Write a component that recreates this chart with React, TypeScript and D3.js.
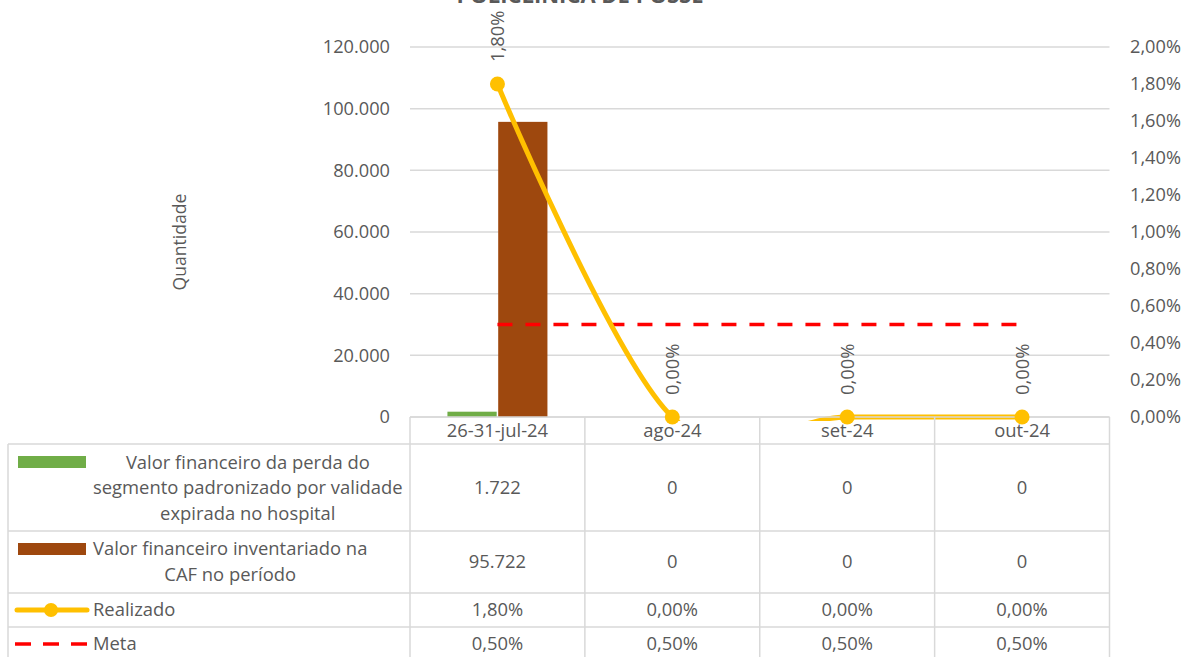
import React from 'react';
import * as d3 from 'd3';

const titleText = 'POLICLÍNICA DE POSSE';
const categories = ['26-31-jul-24', 'ago-24', 'set-24', 'out-24'];
const perdaValues = [1722, 0, 0, 0];
const inventarioValues = [95722, 0, 0, 0];
const realizadoValues = [0.018, 0, 0, 0];
const metaValues = [0.005, 0.005, 0.005, 0.005];
const leftTicks = [0, 20000, 40000, 60000, 80000, 100000, 120000];
const rightTicks = [0, 0.002, 0.004, 0.006, 0.008, 0.01, 0.012, 0.014, 0.016, 0.018, 0.02];
const perdaName = ['Valor financeiro da perda do', 'segmento padronizado por validade', 'expirada no hospital'];
const inventarioName = ['Valor financeiro inventariado na', 'CAF no período'];
const realizadoName = 'Realizado';
const metaName = 'Meta';
const yAxisTitle = 'Quantidade';

const locale = d3.formatLocale({ decimal: ',', thousands: '.', grouping: [3], currency: ['R$', ''] });
const fmtNum = locale.format(',.0f');
const fmtPct = locale.format('.2%');

const FONT = '"Open Sans", sans-serif';
const TXT = '#595959';
const GRID = '#d9d9d9';
const GREEN = '#70AD47';
const BROWN = '#9E480E';
const GOLD = '#FFC000';
const RED = '#FF0000';

let _ctx: CanvasRenderingContext2D | null = null;
function measure(t: string, size: number) {
  if (!_ctx) _ctx = document.createElement('canvas').getContext('2d');
  if (!_ctx) return t.length * size * 0.5;
  _ctx.font = `${size}px "Open Sans"`;
  return _ctx.measureText(t).width;
}

export default function App() {
  const W = 1184, H = 657;
  const plotL = 410, plotR = 1109.5, plotT = 47, plotB = 417;
  const x = d3.scaleBand<string>().domain(categories).range([plotL, plotR]).paddingInner(0).paddingOuter(0);
  const bw = x.bandwidth();
  const yL = d3.scaleLinear().domain([0, 120000]).range([plotB, plotT]);
  const yR = d3.scaleLinear().domain([0, 0.02]).range([plotB, plotT]);
  const cx = (c: string) => (x(c) as number) + bw / 2;
  const sub = d3.scaleBand<string>().domain(['perda', 'inv']).range([-50, 50]).paddingInner(0.03);

  const line = d3.line<number>().x((_, i) => cx(categories[i])).y((d) => yR(d)).curve(d3.curveCardinal.tension(0));
  const metaLine = d3.line<number>().x((_, i) => cx(categories[i])).y((d) => yR(d));

  const rows = [444, 531, 593, 627, 662];
  const tableL = 8;
  const colEdges = [plotL, ...categories.map((c) => (x(c) as number) + bw)];
  const fs = 18.4;
  const tfs = 18.2;
  const textX0 = 93;
  const blockCenter = (lines: string[]) => textX0 + Math.max(...lines.map((l) => measure(l, fs))) / 2;

  const rowVals: string[][] = [
    perdaValues.map(fmtNum),
    inventarioValues.map(fmtNum),
    realizadoValues.map(fmtPct),
    metaValues.map(fmtPct),
  ];
  const rowValY = [488, 562, 610, 644];

  return (
    <svg width={W} height={H} style={{ position: 'absolute', left: 0, top: 0, background: '#fff' }} fontFamily={FONT}>
      <defs>
        <clipPath id="plotclip">
          <rect x={plotL} y={0} width={plotR - plotL} height={421} />
        </clipPath>
      </defs>
      <rect width={W} height={H} fill="#fff" />
      <text x={580} y={3} textAnchor="middle" fontSize={22} fontWeight="bold" fill={TXT}>{titleText}</text>

      {/* gridlines */}
      {leftTicks.map((t) => (
        <line key={'g' + t} x1={plotL} x2={plotR} y1={yL(t)} y2={yL(t)} stroke={GRID} strokeWidth={1.5} />
      ))}
      {/* left tick labels */}
      {leftTicks.map((t) => (
        <text key={'l' + t} x={390} y={yL(t)} dy="0.35em" textAnchor="end" fontSize={tfs} fill={TXT}>{fmtNum(t)}</text>
      ))}
      {rightTicks.map((t) => (
        <text key={'r' + t} x={1130} y={yR(t)} dy="0.35em" textAnchor="start" fontSize={tfs} fill={TXT}>{fmtPct(t)}</text>
      ))}
      <text transform={`translate(180,242) rotate(-90)`} textAnchor="middle" dy="0.35em" fontSize={17.6} fill={TXT}>{yAxisTitle}</text>

      {/* bars */}
      {categories.map((c, i) => (
        <g key={'b' + c}>
          {perdaValues[i] > 0 && (
            <rect x={cx(c) + (sub('perda') as number)} width={sub.bandwidth()} y={yL(perdaValues[i])} height={plotB - yL(perdaValues[i])} fill={GREEN} />
          )}
          {inventarioValues[i] > 0 && (
            <rect x={cx(c) + (sub('inv') as number)} width={sub.bandwidth()} y={yL(inventarioValues[i])} height={plotB - yL(inventarioValues[i])} fill={BROWN} />
          )}
        </g>
      ))}

      {/* meta */}
      <path d={metaLine(metaValues) || ''} fill="none" stroke={RED} strokeWidth={3.5} strokeDasharray="15 13" />
      {/* realizado */}
      <g clipPath="url(#plotclip)">
        <path d={line(realizadoValues) || ''} fill="none" stroke={GOLD} strokeWidth={5} strokeLinecap="round" />
      </g>

      {/* table lines */}
      <line x1={plotL} x2={plotR} y1={plotB} y2={plotB} stroke={GRID} strokeWidth={1.5} />
      {rows.map((r) => (
        <line key={'h' + r} x1={tableL} x2={plotR} y1={r} y2={r} stroke={GRID} strokeWidth={1.5} />
      ))}
      {colEdges.map((e) => (
        <line key={'v' + e} x1={e} x2={e} y1={plotB} y2={H + 5} stroke={GRID} strokeWidth={1.5} />
      ))}
      <line x1={tableL} x2={tableL} y1={rows[0]} y2={H + 5} stroke={GRID} strokeWidth={1.5} />

      {realizadoValues.map((v, i) => (
        <circle key={'m' + i} cx={cx(categories[i])} cy={yR(v)} r={7.5} fill={GOLD} />
      ))}
      {realizadoValues.map((v, i) => (
        <text key={'dl' + i} transform={`translate(${cx(categories[i])},${yR(v) - 22}) rotate(-90)`} dy="0.35em" textAnchor="start" fontSize={18.4} fill={TXT}>{fmtPct(v)}</text>
      ))}

      {/* header */}
      {categories.map((c) => (
        <text key={'c' + c} x={cx(c)} y={431} dy="0.35em" textAnchor="middle" fontSize={fs} fill={TXT}>{c}</text>
      ))}
      {/* values */}
      {rowVals.map((vals, ri) =>
        vals.map((v, ci) => (
          <text key={'v' + ri + '-' + ci} x={cx(categories[ci])} y={rowValY[ri]} dy="0.35em" textAnchor="middle" fontSize={fs} fill={TXT}>{v}</text>
        ))
      )}

      {/* legend cells */}
      <rect x={18} y={456} width={68} height={12} fill={GREEN} />
      {perdaName.map((l, i) => (
        <text key={'p' + i} x={blockCenter(perdaName)} y={462.5 + i * 25.3} dy="0.35em" textAnchor="middle" fontSize={fs} fill={TXT}>{l}</text>
      ))}
      <rect x={18} y={543} width={68} height={12} fill={BROWN} />
      {inventarioName.map((l, i) => (
        <text key={'i' + i} x={blockCenter(inventarioName)} y={549 + i * 26} dy="0.35em" textAnchor="middle" fontSize={fs} fill={TXT}>{l}</text>
      ))}
      <line x1={17} x2={87} y1={610} y2={610} stroke={GOLD} strokeWidth={5} strokeLinecap="round" />
      <circle cx={51} cy={610} r={7} fill={GOLD} />
      <text x={textX0} y={610} dy="0.35em" fontSize={fs} fill={TXT}>{realizadoName}</text>
      <line x1={15} x2={88} y1={644} y2={644} stroke={RED} strokeWidth={3.5} strokeDasharray="16 12" />
      <text x={textX0} y={644} dy="0.35em" fontSize={fs} fill={TXT}>{metaName}</text>
    </svg>
  );
}
